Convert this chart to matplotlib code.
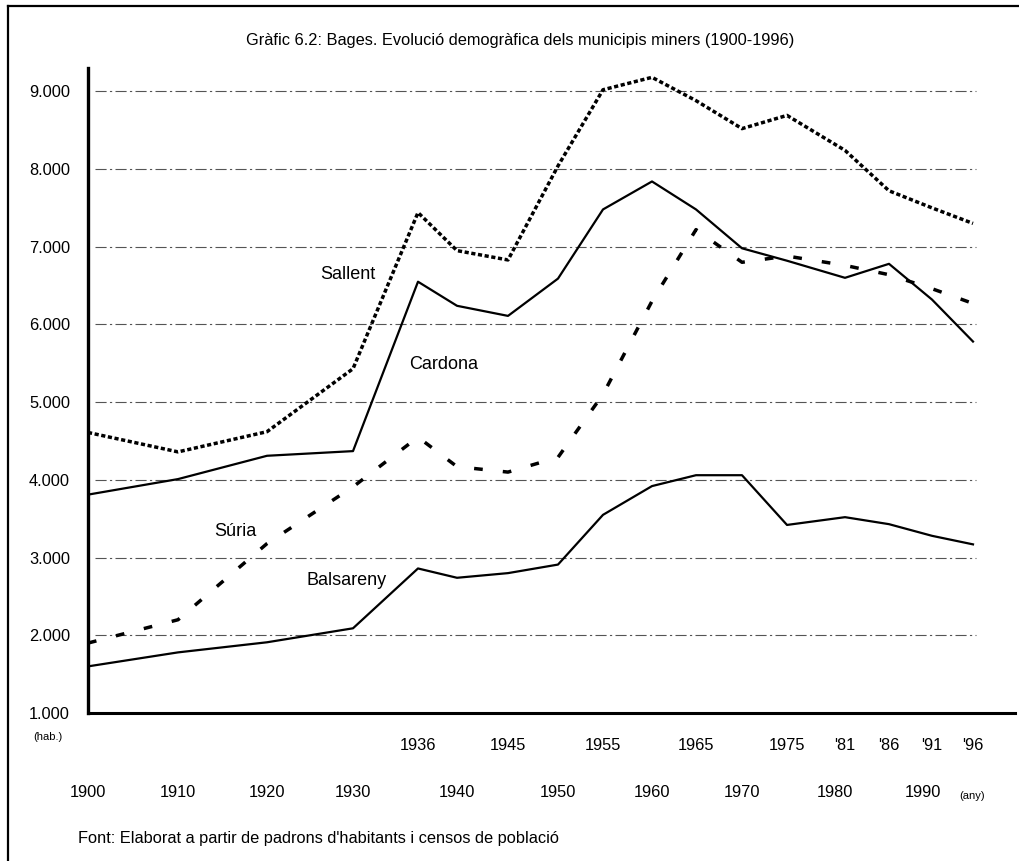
import numpy as np
import matplotlib
matplotlib.use("Agg")
import matplotlib.pyplot as plt
from matplotlib.lines import Line2D
from matplotlib.ticker import FuncFormatter

plt.rcParams['font.family'] = ['Liberation Sans', 'DejaVu Sans']

years = [1900, 1910, 1920, 1930, 1936, 1940, 1945, 1950, 1955,
         1960, 1965, 1970, 1975, 1981, 1986, 1991, 1996]

sallent = [4610, 4360, 4620, 5430, 7440, 6950, 6830, 8040, 9020,
           9180, 8880, 8520, 8690, 8240, 7720, 7500, 7300]
cardona = [3810, 4010, 4310, 4370, 6550, 6240, 6110, 6590, 7480,
           7840, 7480, 6980, 6820, 6600, 6780, 6320, 5780]
suria = [1900, 2200, 3180, 3910, 4550, 4170, 4100, 4290, 5100,
         6300, 7220, 6800, 6880, 6760, 6640, 6460, 6270]
balsareny = [1600, 1780, 1910, 2090, 2860, 2740, 2800, 2910, 3550,
             3920, 4060, 4060, 3420, 3520, 3430, 3280, 3170]

top_ticks = [1936, 1945, 1955, 1965, 1975, 1981, 1986, 1991, 1996]
top_labels = ['1936', '1945', '1955', '1965', '1975', "'81", "'86", "'91", "'96"]
bottom_ticks = [1900, 1910, 1920, 1930, 1940, 1950, 1960, 1970, 1980, 1990]
bottom_labels = [str(y) for y in bottom_ticks]
y_grid = [2000, 3000, 4000, 5000, 6000, 7000, 8000, 9000]

# the printed time axis is not evenly spaced: year -> position along the axis
scale_years = [1900, 1910, 1920, 1930, 1936, 1940, 1945, 1950, 1955,
               1960, 1965, 1970, 1975, 1981, 1986, 1991, 1996, 2005]
scale_pos = [0, 90, 179, 265, 330, 369, 420, 470, 515,
             564, 608, 654, 699, 757, 801, 844, 885, 927]


def fwd(x):
    return np.interp(x, scale_years, scale_pos)


def inv(p):
    return np.interp(p, scale_pos, scale_years)


fig = plt.figure(figsize=(10.19, 8.61), dpi=100)
ax = fig.add_axes([88 / 1019, 148 / 861, 927 / 1019, 645 / 861])
ax.set_xscale('function', functions=(fwd, inv))
ax.set_xlim(1900, 2005)
ax.set_ylim(1000, 9300)

ax.hlines(y_grid, 1900.8, 1996.6, colors='#555555', linewidth=0.8,
          linestyles=(0, (10, 3, 2, 3)), zorder=1)

ax.plot(years, sallent, color='black', linewidth=2.5,
        linestyle=(0, (1.2, 0.75)), zorder=3)
ax.plot(years, cardona, color='black', linewidth=1.6, zorder=3)
ax.plot(years, suria, color='black', linewidth=2.5,
        linestyle=(0, (2.5, 5.8)), zorder=3)
ax.plot(years, balsareny, color='black', linewidth=1.6, zorder=3)

ax.text(1929.4, 6640, 'Sallent', fontsize=13, ha='center', va='center')
ax.text(1938.6, 5490, 'Cardona', fontsize=13, ha='center', va='center')
ax.text(1916.4, 3330, 'Súria', fontsize=13, ha='center', va='center')
ax.text(1929.3, 2700, 'Balsareny', fontsize=13, ha='center', va='center')

for s in ['top', 'right']:
    ax.spines[s].set_visible(False)
ax.spines['left'].set_linewidth(2.4)
ax.spines['bottom'].set_linewidth(2.2)

ax.set_yticks([1000] + y_grid)
ax.yaxis.set_major_formatter(FuncFormatter(lambda v, p: f'{int(v):,}'.replace(',', '.')))
ax.tick_params(axis='y', length=0, pad=13, labelsize=11.8)

ax.set_xticks(bottom_ticks)
ax.set_xticklabels(bottom_labels)
ax.set_xticks(top_ticks, minor=True)
ax.set_xticklabels(top_labels, minor=True)
ax.tick_params(axis='x', which='major', length=0, pad=52, labelsize=11.8)
ax.tick_params(axis='x', which='minor', length=0, pad=18, labelsize=11.8)

fig.text(48 / 1019, 1 - 737 / 861, '(hab.)', fontsize=8, ha='center', va='center')
fig.text(972 / 1019, 1 - 796 / 861, '(any)', fontsize=8, ha='center', va='center')

fig.text(520 / 1019, 1 - 40 / 861,
         'Gràfic 6.2: Bages. Evolució demogràfica dels municipis miners (1900-1996)',
         fontsize=11.8, ha='center', va='center')
fig.text(78 / 1019, 1 - 838 / 861,
         "Font: Elaborat a partir de padrons d'habitants i censos de població",
         fontsize=11.8, ha='left', va='center')

# outer frame of the figure (left and top edges)
fig.add_artist(Line2D([8 / 1019, 8 / 1019], [0, 1 - 6 / 861],
                      transform=fig.transFigure, color='black', linewidth=1.6))
fig.add_artist(Line2D([8 / 1019, 1], [1 - 6 / 861, 1 - 6 / 861],
                      transform=fig.transFigure, color='black', linewidth=1.6))

fig.savefig('out.png', dpi=100)
